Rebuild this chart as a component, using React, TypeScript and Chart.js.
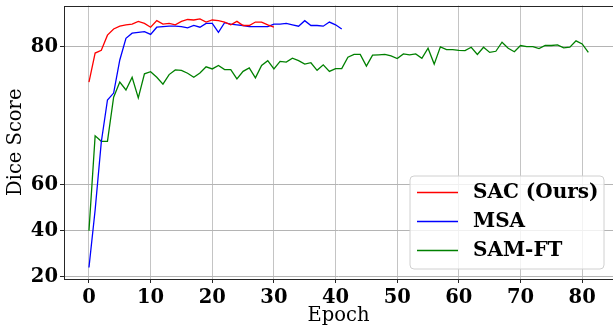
import React, { useEffect, useRef } from "react";
import { Chart, registerables, LinearScale } from "chart.js";

Chart.register(...registerables);

// ---- data ----
const sacValues = [74.9, 79.1, 79.5, 81.7, 82.6, 83.0, 83.2, 83.3, 83.7, 83.4, 82.85, 83.8, 83.3, 83.4, 83.2, 83.7, 83.97, 83.9, 84.07, 83.6, 83.9, 83.8, 83.6, 83.2, 83.7, 83.1, 83.1, 83.6, 83.6, 83.2, 82.85];
const msaValues = [24.0, 49.0, 66.2, 72.3, 73.3, 78.1, 81.25, 81.98, 82.1, 82.2, 81.8, 82.85, 82.95, 83.0, 83.0, 82.95, 82.75, 83.1, 82.85, 83.4, 83.4, 82.1, 83.5, 83.3, 83.2, 83.1, 82.95, 82.95, 82.95, 82.95, 83.3, 83.3, 83.4, 83.2, 83.0, 83.8, 83.1, 83.1, 83.0, 83.6, 83.2, 82.6];
const samFtValues = [40.0, 67.1, 66.3, 66.3, 72.7, 74.9, 73.75, 75.6, 72.6, 76.1, 76.4, 75.6, 74.6, 75.98, 76.65, 76.6, 76.17, 75.6, 76.2, 77.1, 76.8, 77.3, 76.7, 76.7, 75.35, 76.45, 76.95, 75.5, 77.3, 78.0, 76.8, 77.9, 77.8, 78.35, 78.0, 77.5, 77.7, 76.6, 77.4, 76.45, 76.85, 76.85, 78.5, 78.9, 78.9, 77.2, 78.8, 78.85, 78.9, 78.7, 78.3, 78.98, 78.85, 78.98, 78.35, 79.8, 77.5, 80.0, 79.6, 79.6, 79.5, 79.45, 79.95, 78.9, 79.95, 79.2, 79.36, 80.67, 79.8, 79.3, 80.2, 80.04, 80.04, 79.75, 80.2, 80.2, 80.3, 79.85, 79.95, 80.87, 80.43, 79.2];

const seriesLabels = ["SAC (Ours)", "MSA", "SAM-FT"];
const seriesColors = ["#ff0000", "#0000ff", "#008000"];
const xTickValues = [0, 10, 20, 30, 40, 50, 60, 70, 80];
const yTickValues = [20, 40, 60, 80];
const xTitle = "Epoch";
const yTitle = "Dice Score";

// piecewise y mapping: 20..60 compressed, 60..80 expanded (3x)
function fwd(v: number): number {
  return v <= 60 ? (v - 20) / 20 : 2 + ((v - 60) * 3) / 20;
}
function inv(u: number): number {
  return u <= 2 ? 20 + u * 20 : 60 + ((u - 2) * 20) / 3;
}

class PiecewiseScale extends (LinearScale as any) {
  static id = "piecewise";
  static defaults = {};
  getPixelForValue(value: any) {
    if (value === null || value === undefined || isNaN(value)) return NaN;
    const a = fwd(this.min);
    const b = fwd(this.max);
    return this.getPixelForDecimal((fwd(value) - a) / (b - a));
  }
  getValueForPixel(pixel: number) {
    const a = fwd(this.min);
    const b = fwd(this.max);
    const d = this.getDecimalForPixel(pixel);
    return inv(a + d * (b - a));
  }
}
Chart.register(PiecewiseScale as any);

const FONT = "'DejaVu Serif', serif";

const toPoints = (arr: number[]) => arr.map((y, i) => ({ x: i, y }));

const zeroPad = (s: any) => {
  s.paddingTop = 0;
  s.paddingBottom = 0;
  s.paddingLeft = 0;
  s.paddingRight = 0;
};

const framePlugin = {
  id: "frame",
  afterDatasetsDraw(chart: any) {
    const { ctx, chartArea } = chart;
    ctx.save();
    ctx.strokeStyle = "#262626";
    ctx.lineWidth = 1;
    ctx.strokeRect(
      Math.round(chartArea.left) + 0.5,
      Math.round(chartArea.top) + 0.5,
      Math.round(chartArea.right - chartArea.left),
      Math.round(chartArea.bottom - chartArea.top) - 1
    );
    ctx.restore();
  },
};

const legendPlugin = {
  id: "boxLegend",
  afterDraw(chart: any) {
    const { ctx, chartArea } = chart;
    const w = 194;
    const h = 93;
    const x0 = chartArea.right - 9 - w;
    const y0 = chartArea.bottom - 10 - h;
    ctx.save();
    ctx.beginPath();
    const r = 4;
    ctx.moveTo(x0 + r, y0);
    ctx.arcTo(x0 + w, y0, x0 + w, y0 + h, r);
    ctx.arcTo(x0 + w, y0 + h, x0, y0 + h, r);
    ctx.arcTo(x0, y0 + h, x0, y0, r);
    ctx.arcTo(x0, y0, x0 + w, y0, r);
    ctx.closePath();
    ctx.fillStyle = "rgba(255,255,255,0.8)";
    ctx.fill();
    ctx.strokeStyle = "#d0d0d0";
    ctx.lineWidth = 1;
    ctx.stroke();
    chart.data.datasets.forEach((ds: any, i: number) => {
      const yy = y0 + 16.5 + i * 29;
      ctx.strokeStyle = ds.borderColor;
      ctx.lineWidth = 1.4;
      ctx.beginPath();
      ctx.moveTo(x0 + 7, yy);
      ctx.lineTo(x0 + 48, yy);
      ctx.stroke();
      ctx.fillStyle = "#000";
      ctx.font = `bold 20px ${FONT}`;
      ctx.textBaseline = "middle";
      ctx.textAlign = "left";
      ctx.fillText(ds.label, x0 + 63, yy);
    });
    ctx.restore();
  },
};

export default function App() {
  const ref = useRef<HTMLCanvasElement | null>(null);
  useEffect(() => {
    if (!ref.current) return;
    const values = [sacValues, msaValues, samFtValues];
    const chart = new Chart(ref.current, {
      type: "line",
      data: {
        datasets: values.map((arr, i) => ({
          label: seriesLabels[i],
          data: toPoints(arr),
          borderColor: seriesColors[i],
          backgroundColor: seriesColors[i],
          borderWidth: 1.3,
          pointRadius: 0,
          tension: 0,
          fill: false,
        })),
      },
      options: {
        animation: false,
        responsive: false,
        devicePixelRatio: 1,
        layout: { padding: { top: 5.5, left: 0, right: 0, bottom: 0 } },
        plugins: { legend: { display: false }, tooltip: { enabled: false } },
        scales: {
          x: {
            type: "linear",
            min: -4.05,
            max: 85,
            afterBuildTicks: (s: any) => {
              s.ticks = xTickValues.map((v) => ({ value: v }));
            },
            afterFit: (s: any) => {
              s.height = 46;
              zeroPad(s);
            },
            grid: {
              color: "#c4c4c4",
              lineWidth: 1,
              tickColor: "#262626",
              tickLength: 4,
            },
            border: { display: false },
            ticks: {
              autoSkip: false,
              maxRotation: 0,
              padding: 3,
              color: "#000",
              font: { family: FONT, size: 19.5, weight: "bold" },
              callback: (v: any) => String(v),
            },
            title: {
              display: true,
              text: xTitle,
              color: "#000",
              font: { family: FONT, size: 19.5, weight: "normal" },
              padding: { top: 0, bottom: -3 },
            },
          },
          y: {
            type: "piecewise" as any,
            min: 19,
            max: 86,
            afterBuildTicks: (s: any) => {
              s.ticks = yTickValues.map((v) => ({ value: v }));
            },
            afterFit: (s: any) => {
              s.width = 64;
              zeroPad(s);
            },
            grid: {
              color: "#b4b4b4",
              lineWidth: 1,
              tickColor: "#262626",
              tickLength: 4,
            },
            border: { display: false },
            ticks: {
              autoSkip: false,
              padding: 2,
              color: "#000",
              font: { family: FONT, size: 19.5, weight: "bold" },
              callback: (v: any) => String(v),
            },
            title: {
              display: true,
              text: yTitle,
              color: "#000",
              font: { family: FONT, size: 19.5, weight: "normal" },
              padding: { top: 4.5, bottom: 0 },
            },
          },
        },
      } as any,
      plugins: [framePlugin, legendPlugin],
    });
    return () => chart.destroy();
  }, []);
  return (
    <div style={{ position: "absolute", left: 0, top: 0, width: 613, height: 325 }}>
      <canvas ref={ref} width={613} height={325} style={{ display: "block" }} />
    </div>
  );
}
